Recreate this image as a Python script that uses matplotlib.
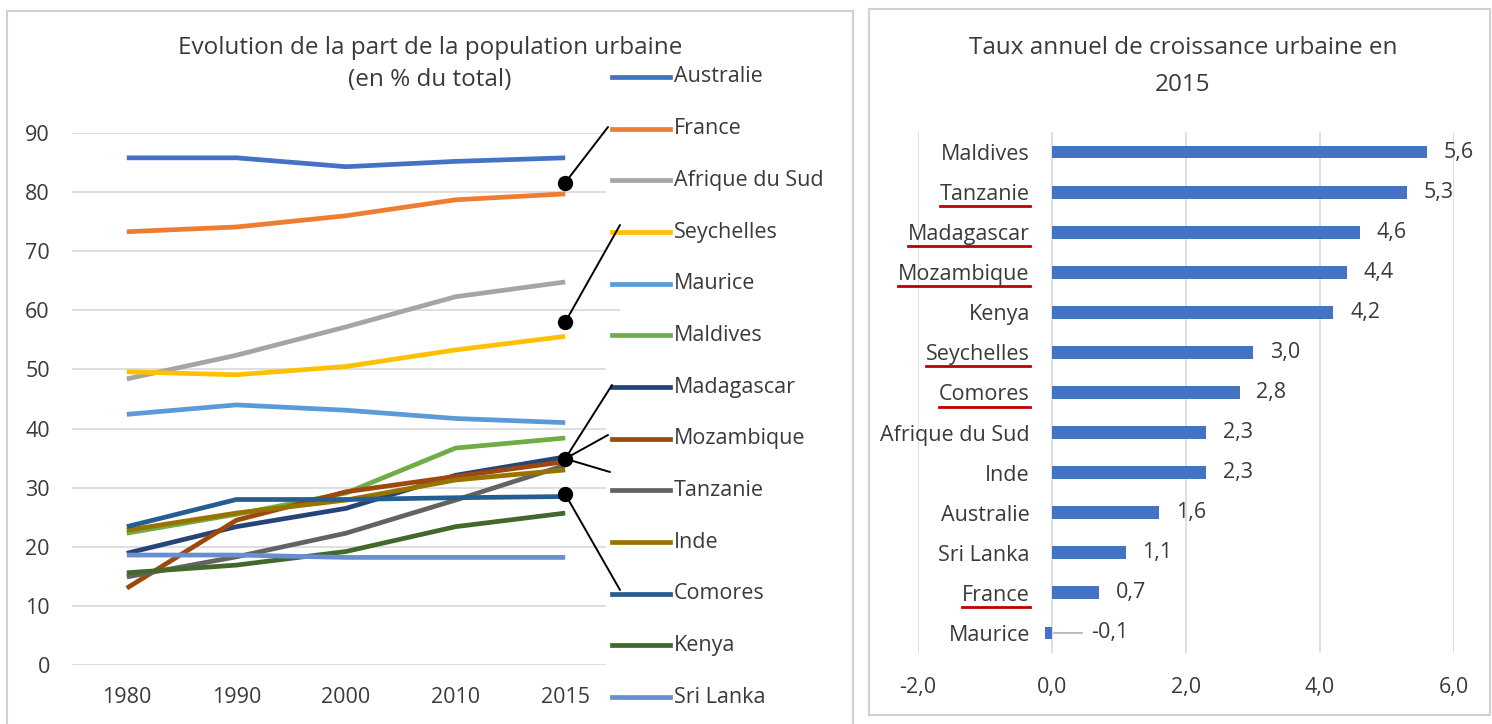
import matplotlib
matplotlib.use("Agg")
import matplotlib.pyplot as plt
from matplotlib.lines import Line2D
from matplotlib.patches import Rectangle, ConnectionPatch

plt.rcParams['font.family'] = ['Open Sans', 'DejaVu Sans']

# ---------------- data: left chart ----------------
years = ["1980", "1990", "2000", "2010", "2015"]
countries = ["Australie", "France", "Afrique du Sud", "Seychelles", "Maurice",
             "Maldives", "Madagascar", "Mozambique", "Tanzanie", "Inde",
             "Comores", "Kenya", "Sri Lanka"]
australie = [85.8, 85.8, 84.3, 85.2, 85.8]
france = [73.3, 74.1, 76.0, 78.7, 79.7]
afrique_du_sud = [48.4, 52.4, 57.2, 62.3, 64.8]
seychelles = [49.6, 49.1, 50.5, 53.3, 55.6]
maurice = [42.4, 44.0, 43.1, 41.7, 41.0]
maldives = [22.3, 25.5, 29.1, 36.7, 38.4]
madagascar = [18.9, 23.4, 26.5, 32.1, 35.2]
mozambique = [13.0, 24.5, 29.3, 31.9, 34.4]
tanzanie = [14.9, 18.3, 22.3, 27.9, 33.8]
inde = [22.8, 25.7, 27.9, 31.3, 33.0]
comores = [23.4, 28.0, 28.0, 28.3, 28.5]
kenya = [15.6, 16.9, 19.2, 23.4, 25.7]
sri_lanka = [18.6, 18.6, 18.2, 18.2, 18.2]
series = [australie, france, afrique_du_sud, seychelles, maurice, maldives,
          madagascar, mozambique, tanzanie, inde, comores, kenya, sri_lanka]
colors = ["#4472C4", "#ED7D31", "#A5A5A5", "#FFC000", "#5B9BD5", "#70AD47",
          "#264478", "#9E480E", "#636363", "#997300", "#255E91", "#43682B",
          "#698ED0"]
left_yticks = [0, 10, 20, 30, 40, 50, 60, 70, 80, 90]
# callout dots (2015 position, value) -> legend entries they point to
callout_dots = [81.6, 58.0, 34.9, 28.9]
callout_targets = [[(608, 127)], [(620, 225)],
                   [(612, 385), (608, 435), (610, 472)], [(620, 590)]]

# ---------------- data: right chart ----------------
bar_countries = ["Maldives", "Tanzanie", "Madagascar", "Mozambique", "Kenya",
                 "Seychelles", "Comores", "Afrique du Sud", "Inde",
                 "Australie", "Sri Lanka", "France", "Maurice"]
bar_values = [5.6, 5.3, 4.6, 4.4, 4.2, 3.0, 2.8, 2.3, 2.3, 1.6, 1.1, 0.7, -0.1]
underlined = ["Tanzanie", "Madagascar", "Mozambique", "Seychelles", "Comores",
              "France"]
right_xticks = [-2, 0, 2, 4, 6]

W, H = 1492, 724
fig = plt.figure(figsize=(W / 100, H / 100), dpi=100)
TXT = "#3A3A3A"
GRID = "#D9D9D9"
FS = 15.5
TFS = 17.5


def fx(px):
    return px / W


def fy(py):
    return 1 - py / H


# panel frames
fig.add_artist(Rectangle((fx(7), -0.01), fx(853 - 7), fy(11) + 0.01,
                         transform=fig.transFigure, fill=False,
                         edgecolor="#D0D0D0", lw=1.5))
fig.add_artist(Rectangle((fx(869), fy(715)), fx(1490 - 869), (715 - 9) / H,
                         transform=fig.transFigure, fill=False,
                         edgecolor="#D0D0D0", lw=1.5))

# ---------------- left chart ----------------
ax = fig.add_axes([fx(72), fy(665), fx(620 - 72), (665 - 133) / H])
x = list(range(len(years)))
for vals, c in zip(series, colors):
    ax.plot(x, vals, color=c, lw=3.4, solid_capstyle='butt', zorder=3)
ax.set_xlim(-0.5, 4.5)
ax.set_ylim(0, 90)
ax.set_yticks(left_yticks)
ax.set_xticks(x)
ax.set_xticklabels(years)
ax.grid(axis='y', color=GRID, lw=1.2)
ax.set_axisbelow(True)
for s in ax.spines.values():
    s.set_visible(False)
ax.tick_params(axis='both', length=0, labelsize=FS, labelcolor=TXT)
ax.tick_params(axis='y', pad=16)
ax.tick_params(axis='x', pad=16)

fig.text(fx(430), fy(48), "Evolution de la part de la population urbaine",
         ha='center', va='center', fontsize=TFS, color=TXT)
fig.text(fx(430), fy(80), "(en % du total)", ha='center', va='center',
         fontsize=TFS, color=TXT)

# manual legend
leg_y0, leg_step = 77, 51.67
for i, (name, c) in enumerate(zip(countries, colors)):
    yy = leg_y0 + i * leg_step
    fig.add_artist(Rectangle((fx(606), fy(yy + 22)), fx(240), 44 / H,
                             transform=fig.transFigure, facecolor='white',
                             edgecolor='none', zorder=4))
for i, (name, c) in enumerate(zip(countries, colors)):
    yy = leg_y0 + i * leg_step
    fig.add_artist(Line2D([fx(612), fx(670)], [fy(yy), fy(yy)],
                          transform=fig.transFigure, color=c, lw=3.4,
                          zorder=5))
    fig.text(fx(674), fy(yy), name, ha='left', va='center', fontsize=FS,
             color=TXT, zorder=5)

# callouts
for val, targets in zip(callout_dots, callout_targets):
    ax.plot([4], [val], 'o', color='black', ms=10, zorder=6, clip_on=False)
    for (tx, ty) in targets:
        cp = ConnectionPatch(xyA=(4, val), coordsA=ax.transData,
                             xyB=(tx, H - ty), coordsB='figure pixels',
                             color='black', lw=1.4, zorder=6)
        fig.add_artist(cp)

# ---------------- right chart ----------------
ax2 = fig.add_axes([fx(918), fy(653), fx(1454 - 918), (653 - 132) / H])
yy = list(range(len(bar_countries)))
ax2.barh(yy, bar_values, height=0.32, color="#4472C4", zorder=3)
ax2.set_xlim(-2, 6)
ax2.set_ylim(len(bar_countries) - 0.5, -0.5)
ax2.set_xticks(right_xticks)
ax2.set_xticklabels([f"{v:.1f}".replace('.', ',') for v in right_xticks])
ax2.set_yticks(yy)
ax2.set_yticklabels(bar_countries)
ax2.grid(axis='x', color=GRID, lw=1.2)
ax2.set_axisbelow(True)
for s in ["top", "right", "bottom"]:
    ax2.spines[s].set_visible(False)
ax2.spines['left'].set_position(('data', 0))
ax2.spines['left'].set_visible(False)
ax2.tick_params(axis='both', length=0, labelsize=FS, labelcolor=TXT)
ax2.tick_params(axis='y', pad=16)
ax2.tick_params(axis='x', pad=17)

for i, v in enumerate(bar_values):
    lab = f"{v:.1f}".replace('.', ',')
    if v >= 0:
        ax2.annotate(lab, xy=(v, i), xytext=(12, 0), textcoords='offset points',
                     ha='left', va='center', fontsize=FS, color=TXT)
    else:
        ax2.annotate(lab, xy=(0.02, i), xytext=(27, 0),
                     textcoords='offset points', ha='left', va='center',
                     fontsize=FS, color=TXT,
                     arrowprops=dict(arrowstyle='-', color='#A0A0A0', lw=1,
                                     shrinkA=4, shrinkB=0))

fig.text(fx(1183), fy(48), "Taux annuel de croissance urbaine en",
         ha='center', va='center', fontsize=TFS, color=TXT)
fig.text(fx(1183), fy(85), "2015", ha='center', va='center', fontsize=TFS,
         color=TXT)

# red underlines
fig.canvas.draw()
renderer = fig.canvas.get_renderer()
for lab in ax2.get_yticklabels():
    if lab.get_text() in underlined:
        bb = lab.get_window_extent(renderer)
        yline = bb.y0 - 1
        fig.add_artist(Line2D([bb.x0 / W, bb.x1 / W], [yline / H, yline / H],
                              transform=fig.transFigure, color="#C00000",
                              lw=2))

fig.savefig("out.png", dpi=100)
